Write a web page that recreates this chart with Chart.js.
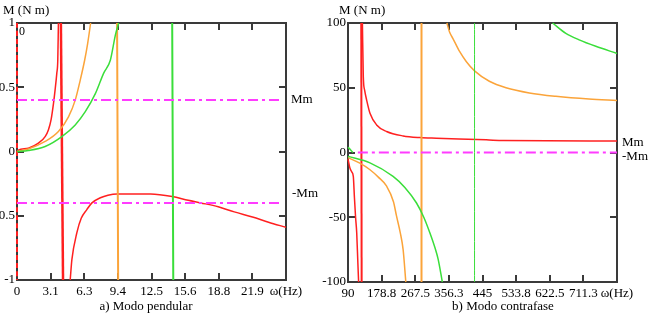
<!DOCTYPE html>
<html>
<head>
<meta charset="utf-8">
<script src="https://cdn.jsdelivr.net/npm/chart.js@4.4.1/dist/chart.umd.min.js"></script>
<style>
  html, body { margin: 0; padding: 0; background: #fff; }
  #wrap { position: relative; width: 650px; height: 314px; overflow: hidden; }
  canvas { position: absolute; top: 0; }
  .lbl { position: absolute; font: 13px "Liberation Serif", "DejaVu Serif", serif; color: #000; white-space: nowrap; line-height: 13px; }
</style>
</head>
<body>
<div id="wrap">
  <canvas id="chart-pendular" width="330" height="314" style="left:0px"></canvas>
  <canvas id="chart-contrafase" width="332" height="314" style="left:318px"></canvas>

  <div class="lbl" style="left:3px; top:3px">M (N m)</div>
  <div class="lbl" style="left:339px; top:3px">M (N m)</div>
  <div class="lbl" style="left:19px; top:25px; font-size:12px">0</div>
  <div class="lbl" style="left:291px; top:92px">Mm</div>
  <div class="lbl" style="left:292px; top:186px">-Mm</div>
  <div class="lbl" style="left:622px; top:135px">Mm</div>
  <div class="lbl" style="left:622px; top:149px">-Mm</div>
  <div class="lbl" style="left:146px; top:299px; transform:translateX(-50%)">a) Modo pendular</div>
  <div class="lbl" style="left:503px; top:299px; transform:translateX(-50%)">b) Modo contrafase</div>
</div>

<script>
// ---- a) Modo pendular : axis ticks ----
const penXTicks = [0, 3.1416, 6.2832, 9.4248, 12.5664, 15.708, 18.8496, 21.9911, 25.1327];
const penXLabels = ["0", "3.1", "6.3", "9.4", "12.5", "15.6", "18.8", "21.9", "ω(Hz)"];

// curves
const penRedLoX = [0, 0.12, 1.06, 2.0, 2.63, 2.94, 3.19, 3.41, 3.56, 3.72, 3.81, 3.87];
const penRedLoY = [0, 0.01, 0.026, 0.065, 0.116, 0.17, 0.25, 0.375, 0.48, 0.61, 0.71, 1.0];
const penRedAsymX = [4.1, 4.3];
const penRedAsymY = [1, -1];
const penRedHiX = [4.97, 5.13, 5.6, 6.0, 6.54, 7.0, 7.79, 8.5, 9.35, 11.0, 12.48, 14.5, 16.0, 17.17, 18.8, 20.3, 22.0, 23.5, 25.13];
const penRedHiY = [-1, -0.84, -0.63, -0.52, -0.45, -0.4, -0.36, -0.34, -0.33, -0.33, -0.33, -0.35, -0.38, -0.4, -0.43, -0.47, -0.51, -0.55, -0.59];
const penRedEdgeX = [0, 0];
const penRedEdgeY = [1, -1];
const penOrX = [0, 1.06, 2.63, 3.87, 4.81, 5.44, 5.91, 6.32, 6.6, 6.88];
const penOrY = [0, 0.019, 0.078, 0.155, 0.27, 0.4, 0.556, 0.71, 0.84, 1.0];
const penOrAsymX = [9.35, 9.45];
const penOrAsymY = [1, -1];
const penGrX = [0, 1.06, 2.63, 4.19, 5.44, 6.38, 7.32, 8.1, 8.72, 9.2, 9.5];
const penGrY = [0, 0.008, 0.039, 0.116, 0.207, 0.31, 0.45, 0.61, 0.71, 0.91, 1.0];
const penGrAsymX = [14.5, 14.6];
const penGrAsymY = [1, -1];
const penMmX = [0, 24.6];
const penMm = 0.4;

// ---- b) Modo contrafase ----
const ctrXTicks = [90, 178.75, 267.5, 356.25, 445, 533.75, 622.5, 711.25, 800];
const ctrXLabels = ["90", "178.8", "267.5", "356.3", "445", "533.8", "622.5", "711.3", "ω(Hz)"];

const ctrRedHiX = [128, 130.4, 134, 139.2, 148, 165.5, 191.8, 235.5, 279.5, 323.4, 455, 500, 800];
const ctrRedHiY = [100, 58.5, 48, 40.5, 30.3, 21.3, 16.2, 12.8, 11.5, 11, 9.8, 9.2, 8.8];
const ctrRedAsymX = [125, 126];
const ctrRedAsymY = [100, -100];
const ctrRedLoX = [90, 95, 100, 104, 107, 110, 113, 116, 118];
const ctrRedLoY = [-5, -12, -15, -18.5, -35, -50, -62, -85, -100];
const ctrOrHiX = [351, 358, 367, 384.5, 402, 424, 463, 507, 568.6, 638.7, 726, 800];
const ctrOrHiY = [100, 93, 88, 78, 70.3, 63, 55, 50, 46, 43.4, 41.3, 40.2];
const ctrOrAsymX = [284, 284];
const ctrOrAsymY = [100, -100];
const ctrOrLoX = [90, 120, 148, 170, 192, 210, 218, 228, 235.5, 242.6];
const ctrOrLoY = [-4, -8, -13.3, -19, -26, -38, -49, -62, -75, -100];
const ctrGrHiX = [630, 665, 700, 744, 800];
const ctrGrHiY = [100, 92, 87, 82, 76.5];
const ctrGrAsymX = [424, 424];
const ctrGrAsymY = [100, -100];
const ctrGrTopX = [90, 97, 103];
const ctrGrTopY = [4, 2, 0];
const ctrGrLoX = [90, 148, 209, 240, 270.8, 290, 306, 320, 328, 339];
const ctrGrLoY = [-3, -8, -18.5, -27, -39, -50, -62, -74, -82.5, -100];
const ctrMmX = [116, 800];
const ctrMm = 0;

const RED = "#ff2020";
const ORANGE = "#fba43a";
const GREEN = "#3ade3a";
const PINK = "#ff3cff";
const FRAME = "#3a3a3a";
const FONT = { family: "'Liberation Serif', 'DejaVu Serif', serif", size: 13 };

function pts(xs, ys) {
  return xs.map((x, i) => ({ x: x, y: ys[i] }));
}

function line(xs, ys, color, width, extra) {
  return Object.assign({
    data: pts(xs, ys),
    borderColor: color,
    borderWidth: width,
    pointRadius: 0,
    tension: 0,
    cubicInterpolationMode: "monotone",
    fill: false,
    clip: 1
  }, extra || {});
}

// frame + inward tick marks on all four sides
const framePlugin = {
  id: "frame",
  beforeDatasetsDraw(chart) {
    const { ctx, chartArea: a, scales } = chart;
    ctx.save();
    ctx.strokeStyle = FRAME;
    ctx.lineWidth = 2;
    ctx.beginPath();
    scales.x.ticks.forEach(t => {
      const px = Math.round(scales.x.getPixelForValue(t.value));
      if (px <= a.left + 1 || px >= a.right - 1) return;
      ctx.moveTo(px, a.top); ctx.lineTo(px, a.top + 7);
      ctx.moveTo(px, a.bottom); ctx.lineTo(px, a.bottom - 7);
    });
    scales.y.ticks.forEach(t => {
      const py = Math.round(scales.y.getPixelForValue(t.value));
      if (py <= a.top + 1 || py >= a.bottom - 1) return;
      ctx.moveTo(a.left, py); ctx.lineTo(a.left + 7, py);
      ctx.moveTo(a.right, py); ctx.lineTo(a.right - 7, py);
    });
    ctx.stroke();
    ctx.strokeRect(a.left, a.top, a.right - a.left, a.bottom - a.top);
    ctx.restore();
  }
};

function makeChart(id, cfg) {
  const canvas = document.getElementById(id);
  return new Chart(canvas.getContext("2d"), {
    type: "line",
    data: { datasets: cfg.datasets },
    plugins: [framePlugin],
    options: {
      animation: false,
      responsive: false,
      events: [],
      layout: { padding: { top: 23, right: cfg.padRight, left: 0, bottom: 0 } },
      plugins: { legend: { display: false }, tooltip: { enabled: false } },
      scales: {
        x: {
          type: "linear",
          min: cfg.xTicks[0],
          max: cfg.xTicks[cfg.xTicks.length - 1],
          afterBuildTicks: s => { s.ticks = cfg.xTicks.map(v => ({ value: v })); },
          afterFit: s => { s.height = cfg.xHeight; },
          grid: { display: false, drawTicks: false },
          border: { display: false },
          ticks: {
            autoSkip: false,
            maxRotation: 0,
            padding: 4,
            color: "#000",
            font: FONT,
            callback: (v, i) => cfg.xLabels[i]
          }
        },
        y: {
          type: "linear",
          min: cfg.yMin,
          max: cfg.yMax,
          afterFit: s => { s.width = cfg.yWidth; },
          grid: { display: false, drawTicks: false },
          border: { display: false },
          ticks: {
            stepSize: cfg.yStep,
            padding: 2,
            color: "#000",
            font: FONT,
            callback: v => String(v)
          }
        }
      }
    }
  });
}

makeChart("chart-pendular", {
  xTicks: penXTicks, xLabels: penXLabels,
  yMin: -1, yMax: 1, yStep: 0.5,
  yWidth: 17, xHeight: 34, padRight: 44,
  datasets: [
    line(penMmX, [penMm, penMm], PINK, 2, { borderDash: [10, 4, 3, 4] }),
    line(penMmX, [-penMm, -penMm], PINK, 2, { borderDash: [10, 4, 3, 4] }),
    line(penGrX, penGrY, GREEN, 1.5),
    line(penGrAsymX, penGrAsymY, GREEN, 2),
    line(penOrX, penOrY, ORANGE, 1.5),
    line(penOrAsymX, penOrAsymY, ORANGE, 2),
    line(penRedLoX, penRedLoY, RED, 1.5),
    line(penRedAsymX, penRedAsymY, RED, 2.5),
    line(penRedHiX, penRedHiY, RED, 1.5),
    line(penRedEdgeX, penRedEdgeY, RED, 2, { borderDash: [5, 3], clip: 3 })
  ]
});

makeChart("chart-contrafase", {
  xTicks: ctrXTicks, xLabels: ctrXLabels,
  yMin: -100, yMax: 100, yStep: 50,
  yWidth: 30, xHeight: 32, padRight: 33,
  datasets: [
    line(ctrMmX, [ctrMm, ctrMm], PINK, 2, { borderDash: [10, 4, 3, 4] }),
    line(ctrGrTopX, ctrGrTopY, GREEN, 1.5),
    line(ctrGrLoX, ctrGrLoY, GREEN, 1.5),
    line(ctrGrAsymX, ctrGrAsymY, GREEN, 1),
    line(ctrGrHiX, ctrGrHiY, GREEN, 1.5),
    line(ctrOrLoX, ctrOrLoY, ORANGE, 1.5),
    line(ctrOrAsymX, ctrOrAsymY, ORANGE, 2),
    line(ctrOrHiX, ctrOrHiY, ORANGE, 1.5),
    line(ctrRedLoX, ctrRedLoY, RED, 1.5),
    line(ctrRedAsymX, ctrRedAsymY, RED, 2),
    line(ctrRedHiX, ctrRedHiY, RED, 1.5)
  ]
});
</script>
</body>
</html>
